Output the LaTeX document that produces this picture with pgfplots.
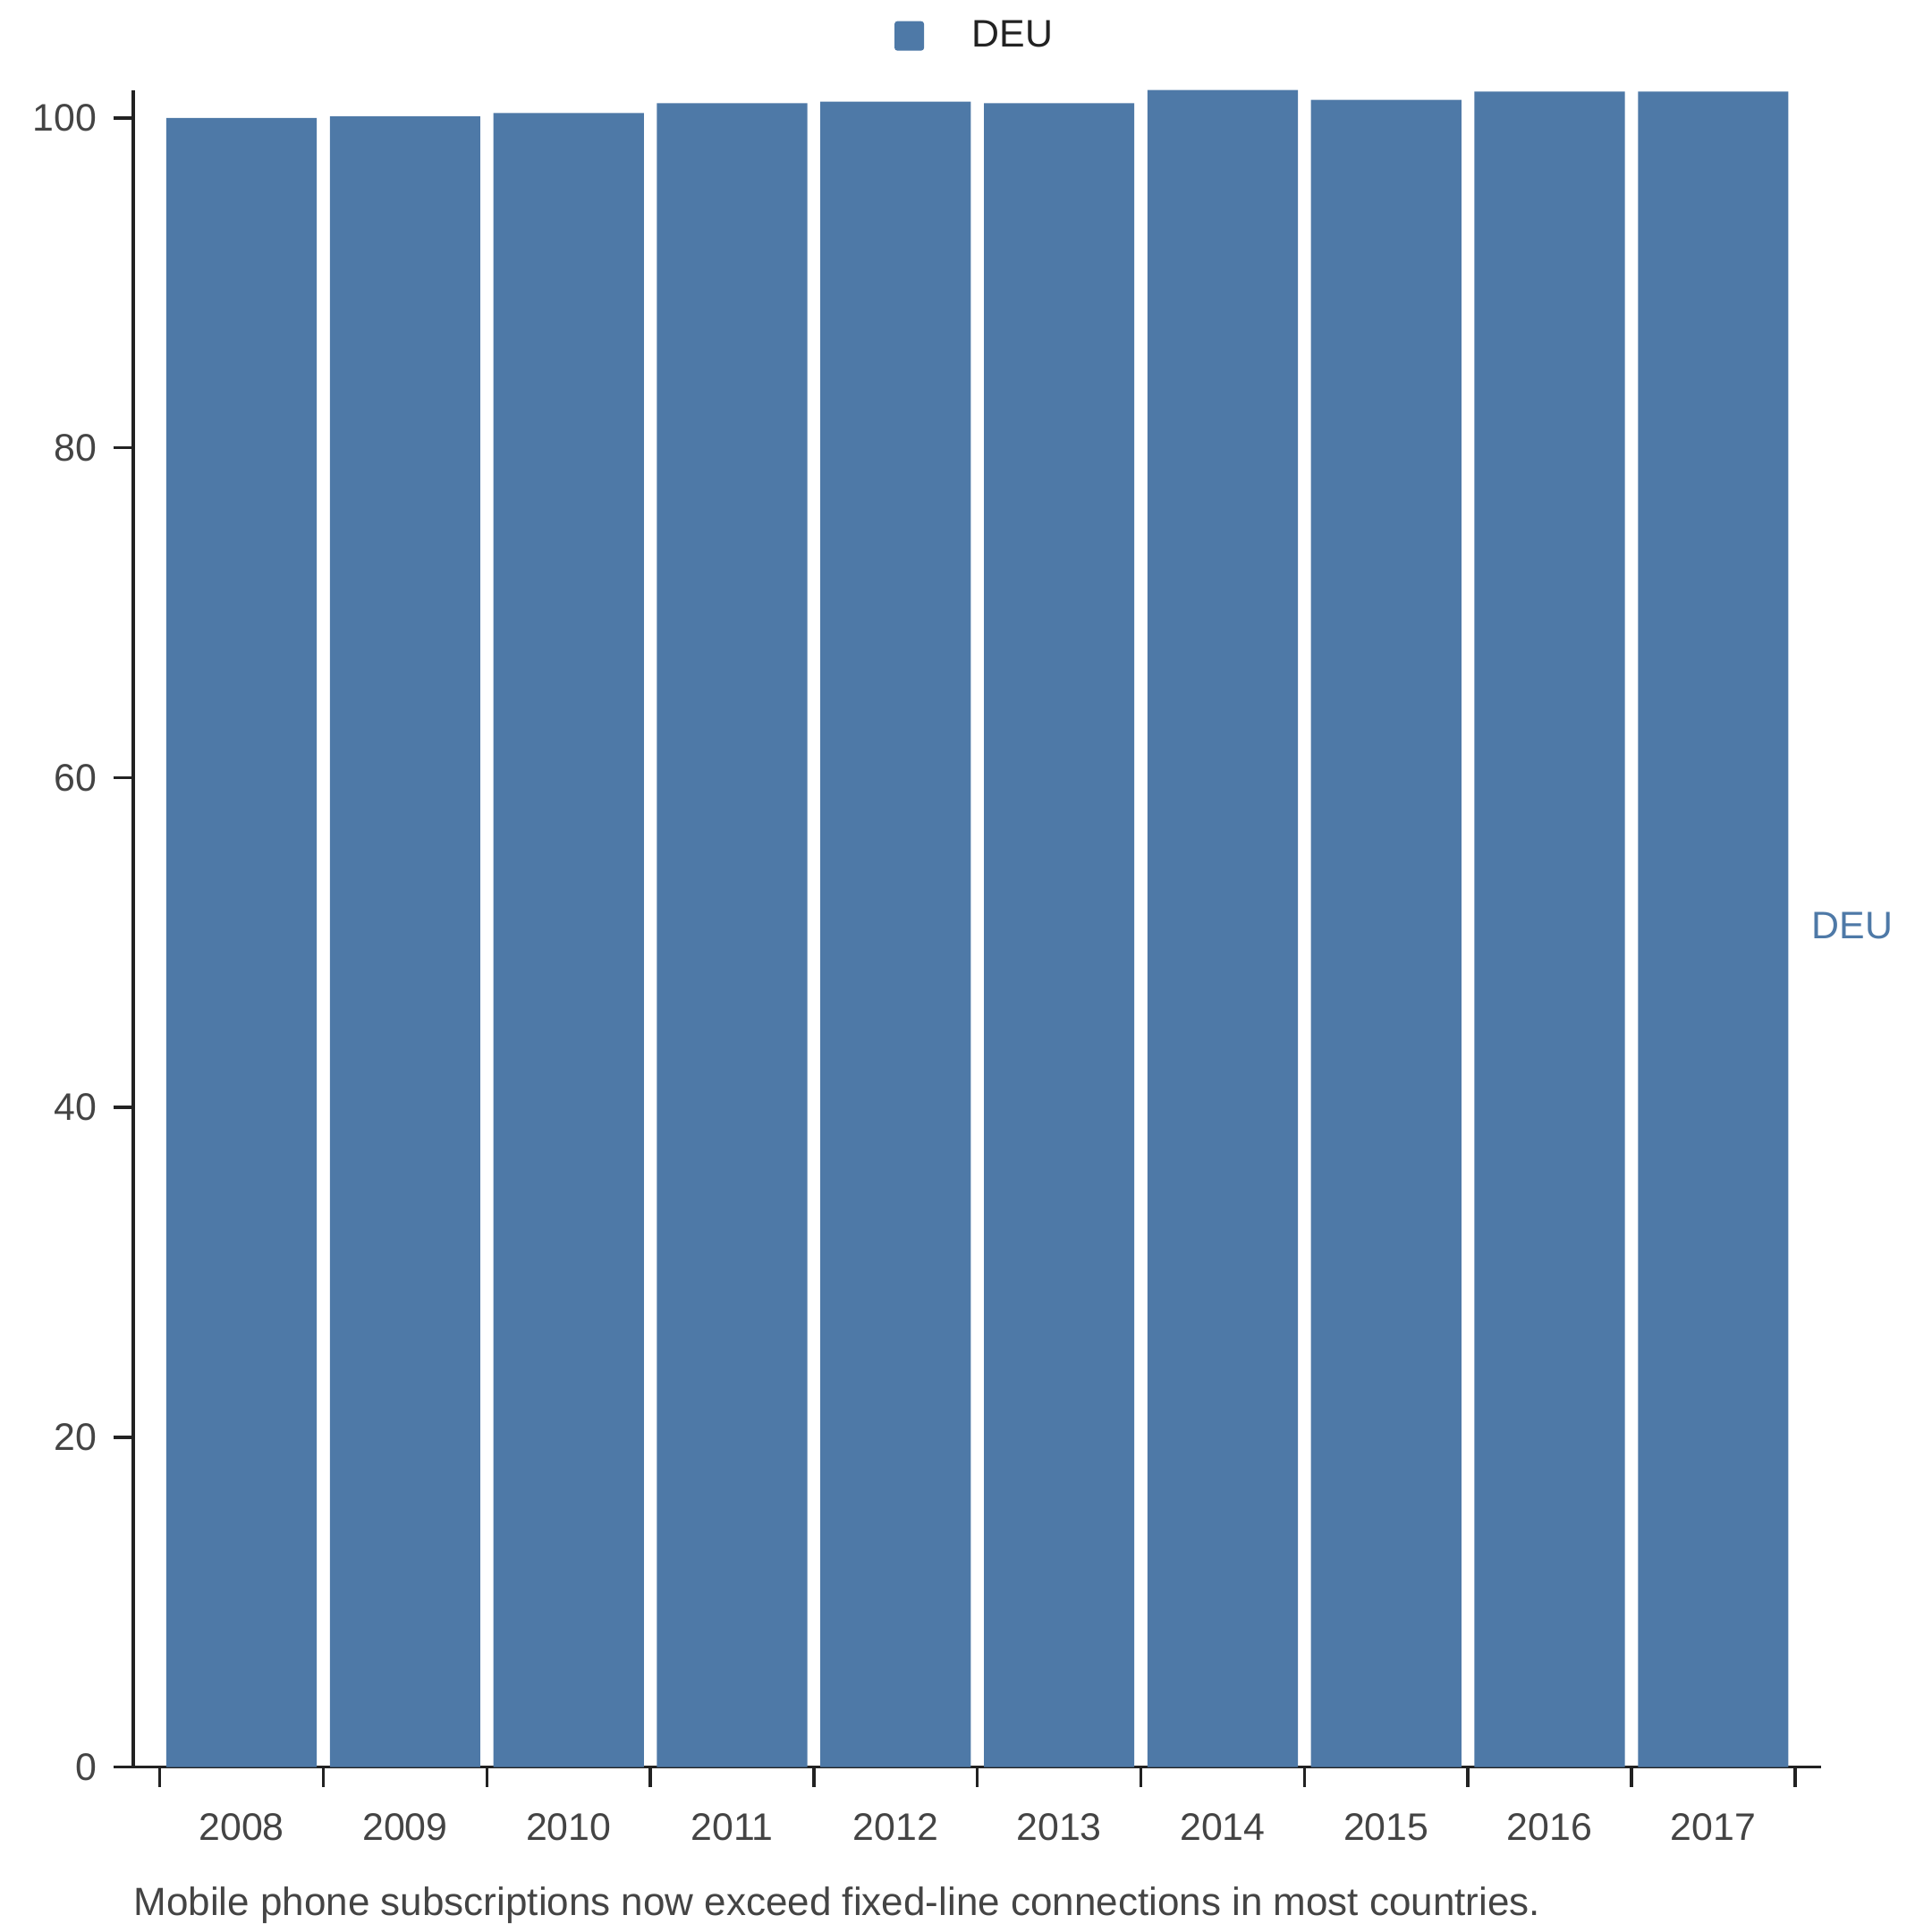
\documentclass[border=0pt]{standalone}
\usepackage{pgfplots}
\pgfplotsset{compat=1.18}
\usepackage{fontspec}
\setmainfont{Liberation Sans}
\definecolor{barblue}{HTML}{4E79A7}
\definecolor{axisdark}{HTML}{222222}
\definecolor{labelgray}{HTML}{444444}
\begin{document}
\begin{tikzpicture}
\path[use as bounding box] (-38.9pt,-48.2pt) rectangle (525.5pt,516.3pt);
\begin{axis}[
  at={(0pt,0pt)}, anchor=south west,
  scale only axis, width=493.2pt, height=490pt,
  font=\fontsize{11.2pt}{13pt}\selectfont,
  /pgf/number format/assume math mode=true,
  axis x line=bottom, axis y line=left,
  axis line style={draw=axisdark, line width=1pt, -},
  xmin=-0.663, xmax=9.66, ymin=0, ymax=101.7,
  xtick={0,...,9},
  xticklabels={2008,2009,2010,2011,2012,2013,2014,2015,2016,2017},
  minor xtick={-0.5,0.5,...,9.5},
  ytick={0,20,40,60,80,100},
  tick align=outside,
  major tick length=5.8pt, minor tick length=5.8pt,
  major x tick style={draw=none},
  minor x tick style={draw=axisdark, line width=0.9pt},
  major y tick style={draw=axisdark, line width=0.9pt},
  xticklabel style={text=labelgray, yshift=-4.3pt},
  yticklabel style={text=labelgray, xshift=-1.3pt},
  clip=false,
  legend style={at={(0.5,1)}, anchor=south, yshift=7pt, draw=none, fill=none,
    text=axisdark, font=\fontsize{11.2pt}{13pt}\selectfont},
  legend cell align=left,
]
\addplot[ybar, bar width=0.92, fill=barblue, draw=none,
  legend image code/.code={\fill[barblue, rounded corners=0.8pt] (0pt,-4.3pt) rectangle (8.6pt,4.3pt);}]
  coordinates {(0,100.0) (1,100.1) (2,100.3) (3,100.9) (4,101.0) (5,100.9) (6,101.7) (7,101.1) (8,101.6) (9,101.6)};
\addlegendentry{\hspace{12pt}DEU}
\node[anchor=west, inner sep=0pt, text=barblue] at (axis cs:9.6,51) {DEU};
\end{axis}
\node[anchor=west, inner sep=0pt, text=labelgray, font=\fontsize{11.5pt}{13pt}\selectfont] at (0pt,-40.3pt) {Mobile phone subscriptions now exceed fixed-line connections in most countries.};
\end{tikzpicture}
\end{document}
